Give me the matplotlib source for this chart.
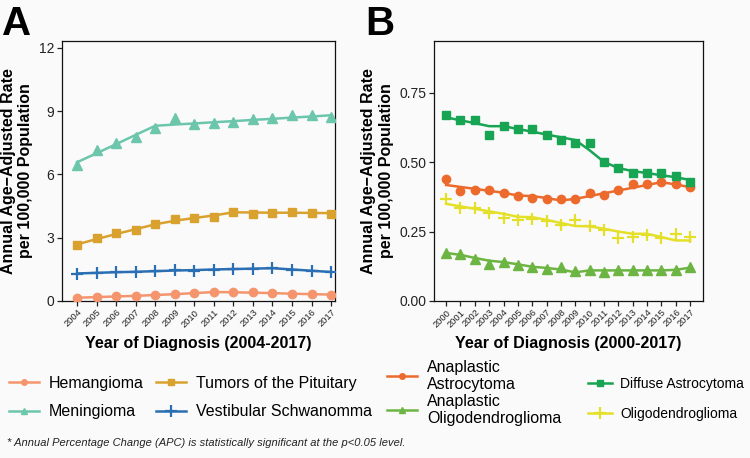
import matplotlib
matplotlib.use('Agg')
import matplotlib.pyplot as plt
from matplotlib.lines import Line2D

plt.rcParams['font.family'] = ['Liberation Sans', 'DejaVu Sans']

# ---- panel A: 2004-2017 ----
years_a = list(range(2004, 2018))
hemangioma = [0.15, 0.18, 0.21, 0.24, 0.28, 0.33, 0.37, 0.43, 0.42, 0.40, 0.37, 0.34, 0.31, 0.29]
hemangioma_fit = [0.15, 0.18, 0.21, 0.24, 0.28, 0.32, 0.37, 0.42, 0.41, 0.39, 0.37, 0.34, 0.32, 0.30]
meningioma = [6.44, 7.15, 7.47, 7.79, 8.19, 8.66, 8.38, 8.43, 8.50, 8.60, 8.68, 8.82, 8.82, 8.74]
meningioma_fit = [6.57, 7.00, 7.43, 7.87, 8.30, 8.36, 8.41, 8.47, 8.52, 8.58, 8.63, 8.69, 8.74, 8.80]
pituitary = [2.65, 2.99, 3.21, 3.37, 3.66, 3.86, 3.91, 3.97, 4.21, 4.13, 4.17, 4.23, 4.18, 4.13]
pituitary_fit = [2.68, 2.93, 3.17, 3.40, 3.63, 3.80, 3.93, 4.05, 4.20, 4.19, 4.18, 4.18, 4.17, 4.16]
vestibular = [1.27, 1.33, 1.37, 1.38, 1.40, 1.45, 1.43, 1.47, 1.50, 1.53, 1.55, 1.47, 1.42, 1.35]
vestibular_fit = [1.30, 1.33, 1.36, 1.38, 1.41, 1.44, 1.46, 1.49, 1.51, 1.53, 1.55, 1.49, 1.43, 1.37]

# ---- panel B: 2000-2017 ----
years_b = list(range(2000, 2018))
anap_astro = [0.438, 0.398, 0.400, 0.400, 0.390, 0.379, 0.371, 0.369, 0.367, 0.369, 0.390, 0.381,
              0.400, 0.421, 0.421, 0.430, 0.421, 0.409]
anap_astro_fit = [0.418, 0.411, 0.404, 0.397, 0.390, 0.380, 0.378, 0.371, 0.362, 0.368, 0.378, 0.388,
                  0.398, 0.408, 0.418, 0.428, 0.420, 0.410]
diffuse = [0.670, 0.651, 0.651, 0.600, 0.629, 0.621, 0.621, 0.600, 0.580, 0.571, 0.571, 0.500,
           0.480, 0.461, 0.460, 0.460, 0.451, 0.430]
diffuse_fit = [0.662, 0.651, 0.641, 0.630, 0.630, 0.620, 0.610, 0.600, 0.590, 0.580, 0.543, 0.501,
               0.479, 0.468, 0.461, 0.453, 0.446, 0.436]
anap_oligo = [0.172, 0.170, 0.151, 0.133, 0.142, 0.131, 0.121, 0.115, 0.121, 0.109, 0.111, 0.103,
              0.111, 0.111, 0.111, 0.111, 0.111, 0.121]
anap_oligo_fit = [0.173, 0.166, 0.155, 0.145, 0.140, 0.132, 0.123, 0.119, 0.113, 0.103, 0.110, 0.110,
                  0.110, 0.110, 0.110, 0.110, 0.112, 0.120]
oligo = [0.369, 0.336, 0.336, 0.318, 0.300, 0.290, 0.296, 0.288, 0.272, 0.290, 0.269, 0.256,
         0.227, 0.230, 0.236, 0.227, 0.242, 0.230]
oligo_fit = [0.350, 0.341, 0.332, 0.323, 0.314, 0.303, 0.302, 0.292, 0.281, 0.270, 0.269, 0.260,
             0.250, 0.242, 0.242, 0.230, 0.218, 0.218]

series_a = [('Hemangioma', hemangioma, hemangioma_fit, '#F4956E', 'o'),
            ('Meningioma', meningioma, meningioma_fit, '#6CC6AC', '^'),
            ('Tumors of the Pituitary', pituitary, pituitary_fit, '#D9A12E', 's'),
            ('Vestibular Schwanomma', vestibular, vestibular_fit, '#2A6FB3', '+')]
series_b = [('Anaplastic\nAstrocytoma', anap_astro, anap_astro_fit, '#EC6A2C', 'o'),
            ('Anaplastic\nOligodendroglioma', anap_oligo, anap_oligo_fit, '#6DB543', '^'),
            ('Diffuse Astrocytoma', diffuse, diffuse_fit, '#17A453', 's'),
            ('Oligodendroglioma', oligo, oligo_fit, '#E4E02A', '+')]

bg = '#FAFAFA'
fig = plt.figure(figsize=(7.5, 4.58), dpi=100, facecolor=bg)
ax_a = fig.add_axes([0.0827, 0.343, 0.364, 0.568])
ax_b = fig.add_axes([0.5787, 0.343, 0.3587, 0.568])


def draw(ax, years, series, ylim, yticks, yfmt, xlim, xlabel, tick_fs):
    ax.set_facecolor(bg)
    for name, obs, fit, col, mk in series:
        ax.plot(years, fit, color=col, lw=1.8, zorder=2)
        if mk == '+':
            ax.plot(years, obs, ls='none', marker='+', ms=9, mew=1.6, color=col, zorder=3)
        else:
            ms = 6 if mk != '^' else 7
            ax.plot(years, obs, ls='none', marker=mk, ms=ms, color=col, mec=col, zorder=3)
    ax.set_xlim(*xlim)
    ax.set_ylim(*ylim)
    ax.set_yticks(yticks)
    ax.set_yticklabels([yfmt % v for v in yticks], fontsize=10, color='#222222')
    ax.set_xticks(years)
    ax.set_xticklabels([str(y) for y in years], rotation=45, ha='right',
                       rotation_mode='anchor', fontsize=tick_fs, color='#222222')
    ax.tick_params(direction='out', length=3.5, width=0.9, color='#222222', pad=2)
    ax.tick_params(axis='x', pad=1.5)
    for s in ax.spines.values():
        s.set_linewidth(0.9)
        s.set_color('#111111')
    ax.set_xlabel(xlabel, fontsize=11.5, fontweight='bold', labelpad=5)
    ax.set_ylabel('Annual Age\u2212Adjusted Rate\nper 100,000 Population',
                  fontsize=11.5, fontweight='bold', labelpad=4, linespacing=1.2)


draw(ax_a, years_a, series_a, (0, 12.33), [0, 3, 6, 9, 12], '%d', (2003.23, 2017.2),
     'Year of Diagnosis (2004-2017)', 6.7)
draw(ax_b, years_b, series_b, (0, 0.938), [0.0, 0.25, 0.5, 0.75], '%.2f', (1999.16, 2017.9),
     'Year of Diagnosis (2000-2017)', 6.7)

fig.text(0.003, 0.99, 'A', fontsize=29, fontweight='bold', va='top', ha='left')
fig.text(0.487, 0.99, 'B', fontsize=29, fontweight='bold', va='top', ha='left')


def handles(series):
    hs = []
    for name, obs, fit, col, mk in series:
        hs.append(Line2D([], [], color=col, lw=1.8, marker=mk,
                         ms=4 if mk != '+' else 9, mew=1.6 if mk == '+' else 1))
    return hs


def add_legend(series, x, y, fs, spacing, ncol=1, colspace=0.7, ls=1.0, hl=1.9):
    leg = fig.legend(handles(series), [s[0] for s in series], ncol=ncol,
                     loc='upper left', bbox_to_anchor=(x, y), frameon=False,
                     fontsize=fs, handlelength=hl, handletextpad=0.6, columnspacing=colspace,
                     labelspacing=spacing, borderaxespad=0, borderpad=0)
    for t in leg.get_texts():
        t.set_linespacing(ls)
    return leg


add_legend(series_a, 0.012, 0.180, 11.5, 0.85, ncol=2, colspace=0.75)
add_legend(series_b[:2], 0.516, 0.215, 11.5, 0.1, ls=1.2)
add_legend(series_b[2:], 0.784, 0.177, 10, 1.15, hl=1.7)

fig.text(0.009, 0.022, '* Annual Percentage Change (APC) is statistically significant at the p<0.05 level.',
         fontsize=8, style='italic', va='bottom', ha='left', color='#222222')

fig.savefig('out.png', dpi=100, facecolor=bg)
